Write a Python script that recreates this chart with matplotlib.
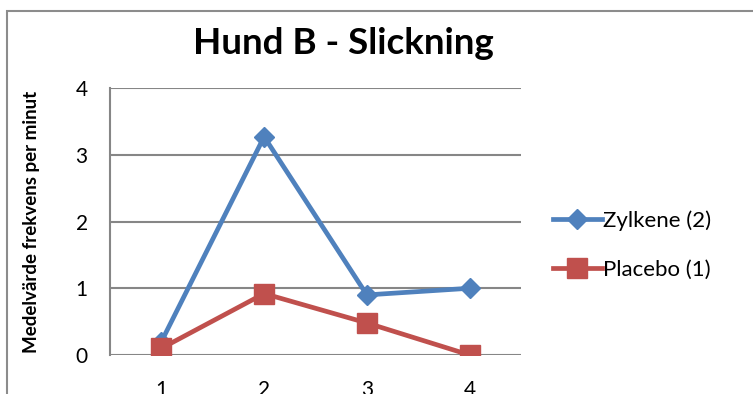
import matplotlib.pyplot as plt
from matplotlib.patches import Rectangle

plt.rcParams['font.family'] = ['Lato', 'DejaVu Sans']

days = [1, 2, 3, 4]
zylkene = [0.2, 3.27, 0.9, 1.0]
placebo = [0.1, 0.92, 0.48, 0.0]

blue = '#4F81BD'
red = '#C0504D'
grid = '#868686'

fig = plt.figure(figsize=(7.53, 3.94), dpi=100)

# chart frame, runs off the right and bottom edges
fig.patches.append(Rectangle((7 / 753, -0.1), 1.2, 1.1 - 11 / 394,
                             transform=fig.transFigure, fill=False,
                             edgecolor='#8C8C8C', linewidth=1.5))

ax = fig.add_axes([110 / 753, 1 - 355 / 394, 411 / 753, 267 / 394])
ax.plot(days, zylkene, color=blue, linewidth=3.4, marker='D', markersize=10,
        label='Zylkene (2)')
ax.plot(days, placebo, color=red, linewidth=3.4, marker='s', markersize=14,
        label='Placebo (1)')

ax.set_xlim(0.5, 4.5)
ax.set_ylim(0, 4)
ax.set_xticks(days)
ax.set_yticks([0, 1, 2, 3, 4])
ax.yaxis.grid(True, color=grid, linewidth=1.5)
ax.set_axisbelow(True)
for s in ['top', 'right', 'bottom']:
    ax.spines[s].set_visible(False)
ax.spines['left'].set_color(grid)
ax.spines['left'].set_linewidth(1.5)
ax.tick_params(axis='both', length=0, labelsize=15)
ax.tick_params(axis='y', pad=16)
ax.tick_params(axis='x', pad=18)

ax.set_ylabel('Medelvärde frekvens per minut', fontsize=13.5, fontweight='bold',
              labelpad=26)
fig.text(343 / 753, 1 - 44 / 394, 'Hund B - Slickning', fontsize=26.5,
         fontweight='bold', ha='center', va='center')

fig.legend(loc='center left', bbox_to_anchor=(533 / 753, 1 - 245 / 394),
           frameon=False, fontsize=16, handlelength=2.2, handletextpad=0.05,
           labelspacing=1.3)

fig.savefig('out.png', dpi=100)
